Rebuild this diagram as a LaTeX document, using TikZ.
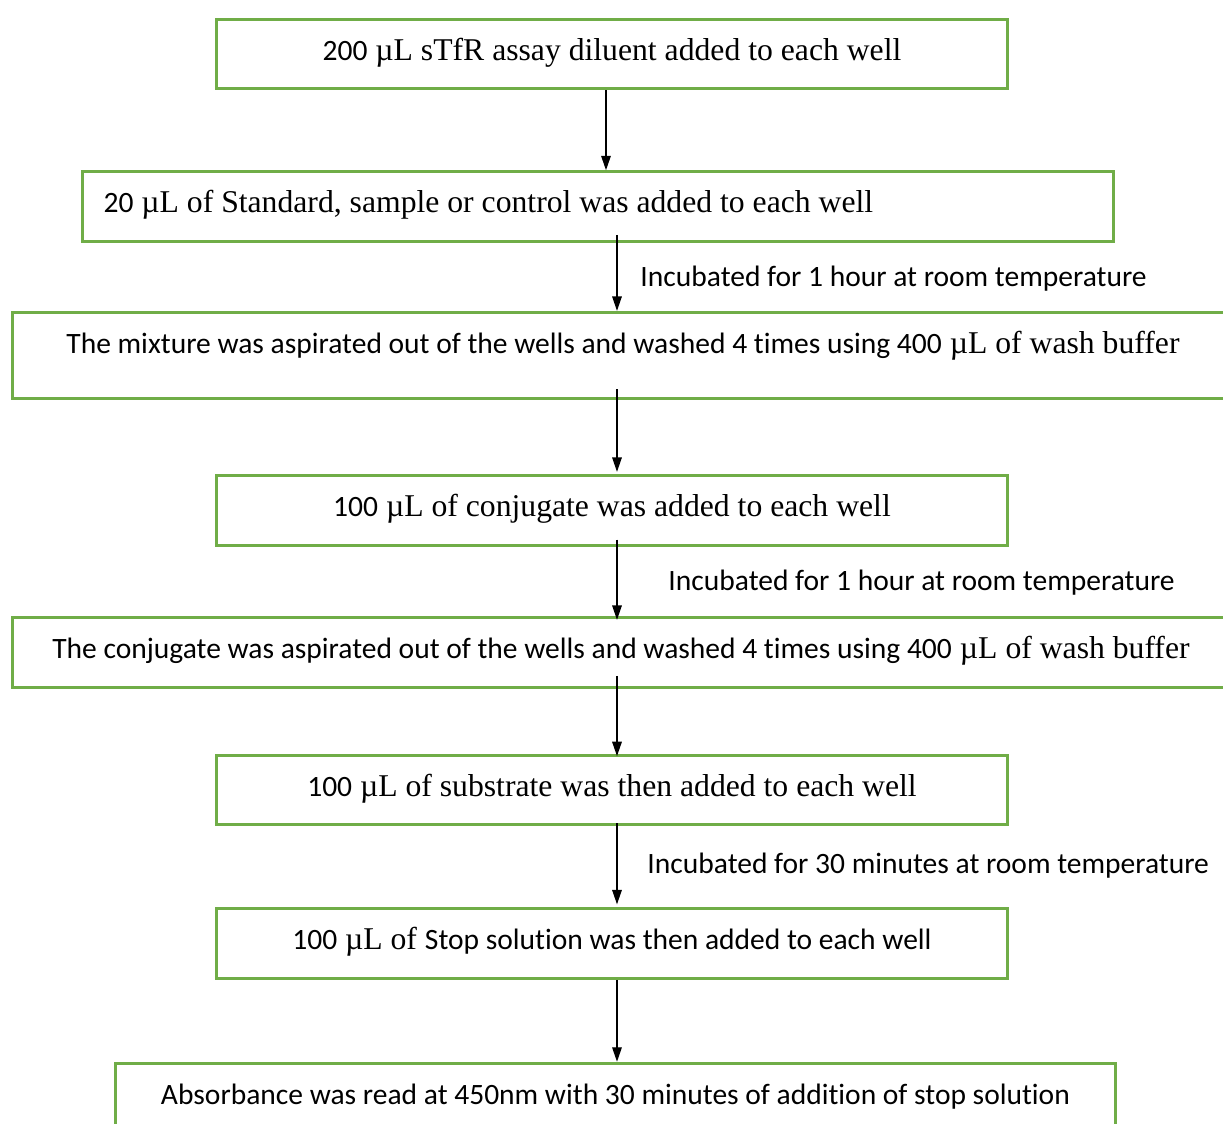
\documentclass[tikz,border=0pt]{standalone}
\usepackage{fontspec}
\setmainfont{Liberation Serif}
\newfontfamily\calib[Scale=0.932, RawFeature=-liga]{Carlito}
\usetikzlibrary{arrows.meta}

\definecolor{boxgreen}{RGB}{112,173,71}

\tikzset{
    stepbox/.style={draw=boxgreen, line width=1.25pt, inner sep=0pt,
        minimum height=29pt, text height=8pt, text depth=3pt,
        font=\fontsize{13.2}{16}\selectfont},
    note/.style={anchor=west, inner sep=0pt, font=\calib\fontsize{13.2}{16}\selectfont},
    arr/.style={line width=0.5pt, -{Triangle[length=6pt,width=4pt]}},
}

\begin{document}
\begin{tikzpicture}[x=0.41667pt, y=-0.41667pt]
    \useasboundingbox (0,0) rectangle (1223,1124);
    \clip (0,0) rectangle (1223,1124);

    % Arrow axes
    \coordinate (ax1) at (606,0);
    \coordinate (ax) at (617,0);

    % Steps of the assay
    \node[stepbox, minimum width=330pt] (b1) at (612,54)
        {{\calib 200} µL sTfR assay diluent added to each well};
    \node[stepbox, text width=412pt, inner xsep=9pt, align=flush left] (b2) at (598,206.5)
        {{\calib 20} µL of Standard, sample or control was added to each well};
    \node[stepbox, minimum width=509pt, minimum height=36pt, text depth=10pt] (b3) at (623,355.5)
        {{\calib The mixture was aspirated out of the wells and washed 4 times using 400} µL of wash buffer};
    \node[stepbox, minimum width=330pt] (b4) at (612,510.5)
        {{\calib 100} µL of conjugate was added to each well};
    \node[stepbox, minimum width=507.5pt] (b5) at (621,652.5)
        {{\calib The conjugate was aspirated out of the wells and washed 4 times using 400} µL of wash buffer};
    \node[stepbox, minimum width=330pt] (b6) at (612,790)
        {{\calib 100} µL of substrate was then added to each well};
    \node[stepbox, minimum width=330pt] (b7) at (612,943.5)
        {{\calib 100} µL of {\calib Stop solution was then added to each well}};
    \node[stepbox, minimum width=417pt] (b8) at (615.5,1098)
        {\calib Absorbance was read at 450nm with 30 minutes of addition of stop solution};

    % Incubation notes
    \node[note] (n1) at (640,279) {Incubated for 1 hour at room temperature};
    \node[note] (n2) at (668,583) {Incubated for 1 hour at room temperature};
    \node[note] (n3) at (647,866) {Incubated for 30 minutes at room temperature};

    % Arrows
    \draw[arr] (b1.south -| ax1) -- (b2.north -| ax1);
    \draw[arr] ([yshift=3.3pt]b2.south -| ax) -- (b3.north -| ax);
    \draw[arr] ([yshift=4.6pt]b3.south -| ax) -- ([yshift=1pt]b4.north -| ax);
    \draw[arr] ([yshift=3pt]b4.south -| ax) -- ([yshift=-1.5pt]b5.north -| ax);
    \draw[arr] ([yshift=5.4pt]b5.south -| ax) -- ([yshift=-1pt]b6.north -| ax);
    \draw[arr] ([yshift=1.2pt]b6.south -| ax) -- ([yshift=1.2pt]b7.north -| ax);
    \draw[arr] (b7.south -| ax) -- (b8.north -| ax);
\end{tikzpicture}
\end{document}
